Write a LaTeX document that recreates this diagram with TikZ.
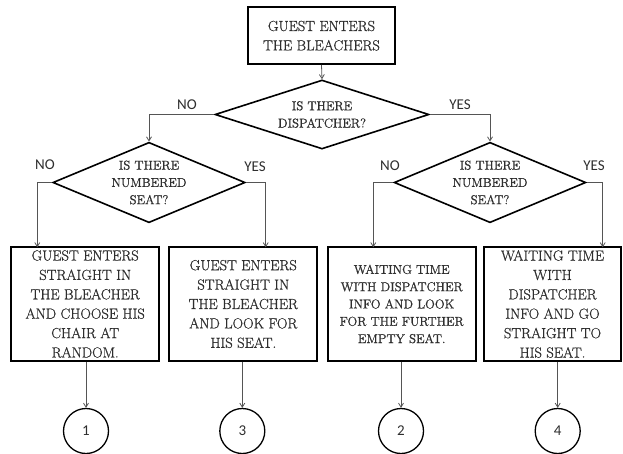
\documentclass[tikz,border=0pt]{standalone}
\usepackage{fontspec}
\newfontfamily\boxfont[FakeBold=0.9]{Latin Modern Roman}
\newfontfamily\labfont{Carlito}
\usetikzlibrary{shapes.geometric,arrows.meta}
\definecolor{txt}{HTML}{2E2E2E}
\definecolor{conn}{HTML}{555555}
\tikzset{
  procbox/.style={draw=black, line width=1.8pt, rectangle, inner sep=0pt, align=center, text=txt,
    font=\boxfont\fontsize{14.6}{19.4}\selectfont},
  decbox/.style={draw=black, line width=1.6pt, diamond, inner sep=0pt, aspect=1},
  dectext/.style={align=center, text=txt, inner sep=0pt, font=\boxfont\fontsize{12.8}{17.3}\selectfont},
  endcirc/.style={draw=black, line width=1.3pt, circle, inner sep=0pt, minimum size=45pt, text=txt,
    font=\labfont\fontsize{15}{18}\selectfont},
  arr/.style={draw=conn, line width=0.8pt, -{Straight Barb[length=4pt,width=5pt]}},
  lab/.style={text=txt, font=\labfont\fontsize{15}{18}\selectfont, inner sep=0pt}
}
\begin{document}
\begin{tikzpicture}[x=1pt,y=-1pt]
\useasboundingbox (0,0) rectangle (623,453);
% top box
\node[procbox, minimum width=147.5pt, minimum height=56.7pt] (top) at (321.5,35.7)
  {GUEST ENTERS\\THE BLEACHERS};
% diamonds
\node[decbox, minimum width=214pt, minimum height=69pt,
  label={[dectext]center:{IS THERE\\DISPATCHER?}}] (d1) at (322,114.5) {};
\node[decbox, minimum width=192.3pt, minimum height=80.4pt,
  label={[dectext]center:{IS THERE\\NUMBERED\\SEAT?}}] (d2) at (149,182.5) {};
\node[decbox, minimum width=191.7pt, minimum height=80.4pt,
  label={[dectext]center:{IS THERE\\NUMBERED\\SEAT?}}] (d3) at (490,182.5) {};
% boxes
\node[procbox, minimum width=148.3pt, minimum height=113.4pt] (b1) at (85.2,304)
  {GUEST ENTERS\\STRAIGHT IN\\THE BLEACHER\\AND CHOOSE HIS\\CHAIR AT\\RANDOM.};
\node[procbox, minimum width=148pt, minimum height=113.4pt] (b2) at (243.3,304)
  {GUEST ENTERS\\STRAIGHT IN\\THE BLEACHER\\AND LOOK FOR\\HIS SEAT.};
\node[procbox, minimum width=148pt, minimum height=113.4pt, font=\boxfont\fontsize{12.8}{17.3}\selectfont] (b3) at (401.7,304)
  {WAITING TIME\\WITH DISPATCHER\\INFO AND LOOK\\FOR THE FURTHER\\EMPTY SEAT.};
\node[procbox, minimum width=137pt, minimum height=113.4pt] (b4) at (552.5,304)
  {WAITING TIME\\WITH\\DISPATCHER\\INFO AND GO\\STRAIGHT TO\\HIS SEAT.};
% circles
\node[endcirc] (c1) at (86,431) {1};
\node[endcirc] (c3) at (242.3,431) {3};
\node[endcirc] (c2) at (401,431) {2};
\node[endcirc] (c4) at (557.7,431) {4};
% free ends on box tops
\coordinate (e1) at (37.3,247.3);
\coordinate (e2) at (265.7,247.3);
\coordinate (e3) at (373.3,247.3);
\coordinate (e4) at (602.7,247.3);
% connectors
\draw[arr] (top.south) -- (d1.north);
\draw[arr] (d1.west) -| (d2.north);
\draw[arr] (d1.east) -| (d3.north);
\draw[arr] (d2.west) -| (e1);
\draw[arr] (d2.east) -| (e2);
\draw[arr] (d3.west) -| (e3);
\draw[arr] (d3.east) -| (e4);
\draw[arr] (c1.north |- b1.south) -- (c1.north);
\draw[arr] (c3.north |- b2.south) -- (c3.north);
\draw[arr] (c2.north |- b3.south) -- (c2.north);
\draw[arr] (c4.north |- b4.south) -- (c4.north);
% labels
\node[lab] (l1) at (187,105) {NO};
\node[lab] (l2) at (460,105) {YES};
\node[lab] (l3) at (45,165) {NO};
\node[lab] (l4) at (255,166.5) {YES};
\node[lab] (l5) at (390,166) {NO};
\node[lab] (l6) at (594,166) {YES};
\end{tikzpicture}
\end{document}
